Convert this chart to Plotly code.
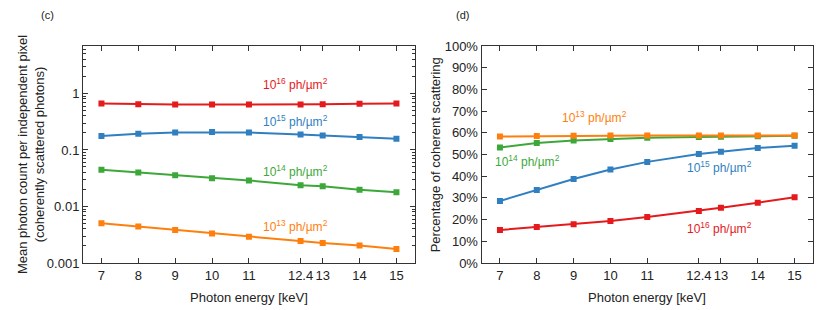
import math
import plotly.graph_objects as go

energy = [7, 8, 9, 10, 11, 12.4, 13, 14, 15]
tick_labels = ["7", "8", "9", "10", "11", "12.4", "13", "14", "15"]

# Panel (c): mean photon count (log scale)
count_e16 = [0.665, 0.645, 0.635, 0.635, 0.635, 0.64, 0.645, 0.655, 0.665]
count_e15 = [0.176, 0.193, 0.204, 0.207, 0.204, 0.188, 0.181, 0.169, 0.158]
count_e14 = [0.0446, 0.0400, 0.0358, 0.0317, 0.0289, 0.0238, 0.0229, 0.0197, 0.0179]
count_e13 = [0.00507, 0.00444, 0.00382, 0.00334, 0.00292, 0.00244, 0.00225, 0.00203, 0.00177]
log_ticks = [0.001, 0.01, 0.1, 1]
log_tick_labels = ["0.001", "0.01", "0.1", "1"]
log_minor_ticks = [m * d for d in [0.001, 0.01, 0.1, 1] for m in range(2, 10)]

# Panel (d): percentage of coherent scattering
pct_e13 = [58.3, 58.5, 58.6, 58.7, 58.8, 58.8, 58.8, 58.8, 58.8]
pct_e14 = [53.2, 55.3, 56.4, 57.2, 57.7, 58.1, 58.2, 58.4, 58.6]
pct_e15 = [28.6, 33.6, 38.7, 43.1, 46.6, 50.2, 51.3, 53.0, 54.0]
pct_e16 = [15.2, 16.6, 17.8, 19.4, 21.2, 24.0, 25.5, 27.8, 30.3]
pct_ticks = [0, 10, 20, 30, 40, 50, 60, 70, 80, 90, 100]

series_labels = ["10<sup>16</sup> ph/µm<sup>2</sup>", "10<sup>15</sup> ph/µm<sup>2</sup>",
                 "10<sup>14</sup> ph/µm<sup>2</sup>", "10<sup>13</sup> ph/µm<sup>2</sup>"]
colors = ["#e41a1c", "#2f7fc1", "#3da83a", "#ff7f0e"]

x_title = "Photon energy [keV]"
y_title_left = "Mean photon count per independent pixel<br>(coherently scattered photons)"
y_title_right = "Percentage of coherent scattering"

FONT = "Liberation Sans, Arial, sans-serif"
AX = "#333333"
TXT = "#222222"

# figure geometry (pixels); the page body adds an 8px offset at top/left
OFF = 8
W, H = 830 - 2 * OFF, 310 - OFF
L = 83 - OFF
T = 46 - OFF
RIGHT_EDGE = 813.3 - OFF
BOTTOM_EDGE = 263 - OFF
R = W - RIGHT_EDGE
B = H - BOTTOM_EDGE
PW = W - L - R
PH = H - T - B


def px_to_paper(px, py):
    """page pixel position -> plot paper coordinates"""
    return (px - OFF - L) / PW, (H - B - (py - OFF)) / PH


fig = go.Figure()

left_series = [count_e16, count_e15, count_e14, count_e13]
right_series = [pct_e16, pct_e15, pct_e14, pct_e13]

for vals, c in zip(left_series, colors):
    fig.add_trace(go.Scatter(x=energy, y=vals, mode="lines+markers", xaxis="x", yaxis="y",
                             line=dict(color=c, width=2), marker=dict(symbol="square", size=6, color=c),
                             showlegend=False, hoverinfo="x+y"))
for vals, c in zip(right_series, colors):
    fig.add_trace(go.Scatter(x=energy, y=vals, mode="lines+markers", xaxis="x2", yaxis="y2",
                             line=dict(color=c, width=2), marker=dict(symbol="square", size=6, color=c),
                             showlegend=False, hoverinfo="x+y"))

# series labels (data coordinates)
left_label_pos = [(12.25, 1.5), (12.25, 0.33), (12.25, 0.043), (12.25, 0.0046)]
right_label_pos = [(12.96, 16.0), (12.96, 44.2), (7.75, 47.0), (9.57, 67.3)]
for (x, y), txt, c in zip(left_label_pos, series_labels, colors):
    fig.add_annotation(x=x, y=math.log10(y), xref="x", yref="y", text=txt, showarrow=False,
                       font=dict(color=c, size=12, family=FONT))
for (x, y), txt, c in zip(right_label_pos, series_labels, colors):
    fig.add_annotation(x=x, y=y, xref="x2", yref="y2", text=txt, showarrow=False,
                       font=dict(color=c, size=12, family=FONT))

# panel letters
for px, py, txt in [(47, 15, "(c)"), (463, 15, "(d)")]:
    ax_, ay_ = px_to_paper(px, py)
    fig.add_annotation(x=ax_, y=ay_, xref="paper", yref="paper", xanchor="center", yanchor="middle",
                       text=txt, showarrow=False, font=dict(size=11, family=FONT, color=TXT))

# axis titles (placed as text in page pixel positions)
title_font = dict(size=13, family=FONT, color=TXT)
for px, py, txt, ang in [(249, 297, x_title, 0), (647.5, 297, x_title, 0),
                         (30.5, 154.5, y_title_left, -90), (436, 154.5, y_title_right, -90)]:
    ax_, ay_ = px_to_paper(px, py)
    fig.add_annotation(x=ax_, y=ay_, xref="paper", yref="paper", xanchor="center", yanchor="middle",
                       text=txt, textangle=ang, showarrow=False, font=title_font)

xaxis_common = dict(range=[6.5, 15.5], tickvals=energy, ticktext=tick_labels, ticks="inside",
                    ticklen=5, tickcolor=AX, showline=True, linecolor=AX, linewidth=1, mirror="ticks",
                    showgrid=False, zeroline=False, automargin=False,
                    tickfont=dict(size=13, family=FONT, color=TXT))

fig.update_layout(
    width=W, height=H,
    margin=dict(l=L, r=R, t=T, b=B, autoexpand=False),
    paper_bgcolor="white", plot_bgcolor="white",
    xaxis=dict(domain=[0, (415 - OFF - L) / PW], anchor="y", **xaxis_common),
    xaxis2=dict(domain=[(481.7 - OFF - L) / PW, 1], anchor="y2", **xaxis_common),
    yaxis=dict(domain=[0, 1], anchor="x", type="log", range=[-3, 0.84],
               tickvals=log_ticks, ticktext=log_tick_labels,
               ticks="inside", ticklen=5, tickcolor=AX, showline=True, linecolor=AX, linewidth=1,
               mirror="ticks", showgrid=False, zeroline=False, automargin=False,
               minor=dict(ticks="inside", ticklen=3, tickcolor=AX, showgrid=False,
                          tickmode="array", tickvals=log_minor_ticks),
               tickfont=dict(size=13, family=FONT, color=TXT)),
    yaxis2=dict(domain=[0, 1], anchor="x2", range=[0, 100], tickvals=pct_ticks,
                ticktext=[f"{v}%" for v in pct_ticks],
                ticks="inside", ticklen=5, tickcolor=AX, showline=True, linecolor=AX, linewidth=1,
                mirror="ticks", showgrid=False, zeroline=False, automargin=False,
                tickfont=dict(size=13, family=FONT, color=TXT)),
)

fig.write_html("out.html")
